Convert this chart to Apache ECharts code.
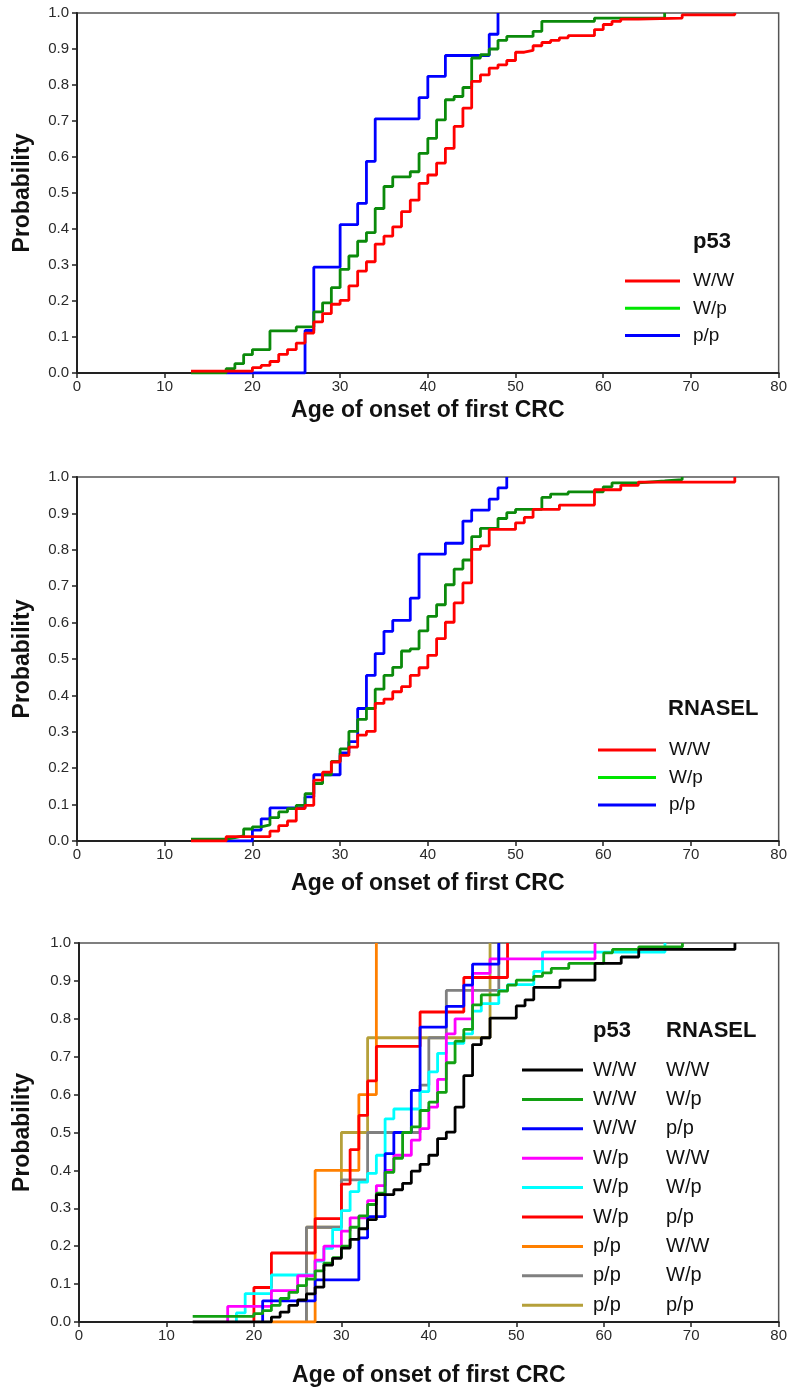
<!DOCTYPE html>
<html>
<head>
<meta charset="utf-8">
<script src="https://cdn.jsdelivr.net/npm/echarts@6/dist/echarts.min.js"></script>
<style>
  body { margin: 0; background: #fff; }
  .panel { position: absolute; left: 0; width: 790px; }
</style>
</head>
<body>
<div id="c1" class="panel" style="top:0;height:440px"></div>
<div id="c2" class="panel" style="top:440px;height:460px"></div>
<div id="c3" class="panel" style="top:900px;height:492px"></div>
<script>
// cumulative probability of first CRC by age: [age, probability]

// panel 1 - p53 genotype
const p53_WW = [[13,0.005],[20,0.015],[21,0.021],[22,0.032],[23,0.052],[24,0.065],[25,0.083],[26,0.111],[27,0.142],[28,0.165],[29,0.191],[30,0.202],[31,0.242],[32,0.283],[33,0.309],[34,0.358],[35,0.38],[36,0.406],[37,0.448],[38,0.48],[39,0.527],[40,0.55],[41,0.583],[42,0.624],[43,0.685],[44,0.736],[45,0.81],[46,0.828],[47,0.847],[48,0.856],[49,0.868],[50,0.891],[51,0.896],[52,0.909],[53,0.918],[54,0.924],[55,0.931],[56,0.937],[59,0.954],[60,0.968],[61,0.977],[62,0.983],[64,0.986],[69,0.995],[75,1]]
const p53_Wp = [[13,0],[17,0.012],[18,0.026],[19,0.051],[20,0.065],[22,0.117],[25,0.128],[27,0.17],[28,0.195],[29,0.237],[30,0.288],[31,0.325],[32,0.366],[33,0.39],[34,0.457],[35,0.518],[36,0.545],[38,0.559],[39,0.61],[40,0.652],[41,0.703],[42,0.759],[43,0.768],[44,0.793],[45,0.875],[46,0.884],[47,0.9],[48,0.924],[49,0.935],[52,0.949],[53,0.977],[59,0.986],[67,1]]
const p53_pp = [[17,0],[26,0.118],[27,0.294],[30,0.412],[32,0.471],[33,0.588],[34,0.706],[39,0.765],[40,0.824],[42,0.882],[47,0.941],[48,1]]

// panel 2 - RNASEL genotype
const rn_WW = [[13,0],[17,0.012],[22,0.027],[23,0.042],[24,0.055],[25,0.089],[26,0.098],[27,0.167],[28,0.189],[29,0.217],[30,0.235],[31,0.258],[32,0.291],[33,0.301],[34,0.378],[35,0.39],[36,0.41],[37,0.424],[38,0.455],[39,0.476],[40,0.51],[41,0.556],[42,0.601],[43,0.654],[44,0.709],[45,0.801],[46,0.811],[47,0.856],[50,0.874],[51,0.889],[52,0.911],[55,0.923],[59,0.965],[62,0.977],[64,0.986],[75,1]]
const rn_Wp = [[13,0.005],[17,0.009],[18,0.014],[19,0.033],[20,0.039],[21,0.044],[22,0.064],[23,0.08],[24,0.089],[25,0.098],[26,0.13],[27,0.158],[28,0.182],[29,0.219],[30,0.253],[31,0.301],[32,0.334],[33,0.364],[34,0.417],[35,0.455],[36,0.477],[37,0.522],[38,0.528],[39,0.577],[40,0.617],[41,0.649],[42,0.704],[43,0.747],[44,0.772],[45,0.836],[46,0.859],[48,0.886],[49,0.902],[50,0.911],[53,0.944],[54,0.953],[56,0.959],[60,0.973],[61,0.984],[64,0.989],[67,0.993],[69,1]]
const rn_pp = [[17,0],[20,0.03],[21,0.061],[22,0.091],[26,0.121],[27,0.182],[30,0.242],[31,0.273],[32,0.364],[33,0.455],[34,0.515],[35,0.576],[36,0.606],[38,0.667],[39,0.788],[42,0.818],[44,0.879],[45,0.909],[47,0.939],[48,0.97],[49,1]]

// panel 3 - combined p53 / RNASEL genotypes
const c_WW_WW = [[13,0],[22,0.013],[23,0.026],[24,0.044],[25,0.058],[26,0.074],[27,0.092],[28,0.15],[29,0.168],[30,0.195],[31,0.218],[32,0.246],[33,0.27],[34,0.336],[36,0.349],[37,0.366],[38,0.398],[39,0.416],[40,0.44],[41,0.484],[42,0.501],[43,0.567],[44,0.65],[45,0.732],[46,0.75],[47,0.802],[50,0.834],[51,0.85],[52,0.883],[55,0.902],[59,0.946],[62,0.963],[64,0.983],[75,1]]
const c_WW_Wp = [[13,0.015],[20,0.022],[21,0.03],[22,0.044],[23,0.062],[24,0.078],[25,0.096],[26,0.113],[27,0.135],[28,0.155],[29,0.17],[30,0.2],[31,0.25],[32,0.28],[33,0.31],[34,0.34],[35,0.395],[36,0.432],[37,0.5],[38,0.515],[39,0.558],[40,0.58],[41,0.606],[42,0.684],[43,0.741],[44,0.772],[45,0.837],[46,0.863],[48,0.873],[49,0.889],[50,0.902],[52,0.912],[53,0.921],[54,0.933],[56,0.946],[60,0.974],[61,0.983],[64,0.99],[69,1]]
const c_WW_pp = [[21,0],[21,0.056],[27,0.111],[32,0.222],[33,0.278],[35,0.444],[36,0.5],[38,0.611],[39,0.778],[42,0.833],[44,0.889],[45,0.944],[48,1]]
const c_Wp_WW = [[17,0],[17,0.041],[22,0.083],[25,0.122],[27,0.163],[28,0.2],[30,0.24],[31,0.275],[33,0.32],[34,0.36],[35,0.4],[36,0.44],[38,0.48],[39,0.51],[40,0.567],[41,0.64],[42,0.76],[43,0.8],[45,0.92],[47,0.958],[59,1]]
const c_Wp_Wp = [[18,0],[18,0.024],[19,0.075],[22,0.124],[27,0.161],[28,0.194],[29,0.244],[30,0.294],[31,0.344],[32,0.369],[33,0.392],[34,0.44],[35,0.536],[36,0.562],[39,0.608],[40,0.66],[41,0.709],[42,0.735],[44,0.76],[45,0.82],[46,0.84],[48,0.875],[49,0.89],[52,0.925],[53,0.976],[67,1]]
const c_Wp_pp = [[20,0],[20,0.091],[22,0.182],[27,0.273],[30,0.364],[31,0.455],[32,0.545],[33,0.636],[34,0.727],[39,0.818],[44,0.909],[49,1]]
const c_pp_WW = [[22,0],[27,0.4],[32,0.6],[34,1]]
const c_pp_Wp = [[26,0],[26,0.25],[30,0.375],[33,0.5],[39,0.625],[40,0.75],[42,0.875],[48,1]]
const c_pp_pp = [[26,0],[26,0.25],[30,0.5],[33,0.75],[47,1]]

const GENOTYPES = ['W/W', 'W/p', 'p/p']
const X_TICKS = { min: 0, max: 80, interval: 10 }
const Y_TICKS = { min: 0, max: 1, interval: 0.1 }

const FONT = '"Liberation Sans", Arial, sans-serif'
const DARK_GREEN = '#0b8a0b'

function axes(xGap, yGap) {
  const line = { show: true, onZero: false, lineStyle: { color: '#222', width: 2 } }
  const tick = { show: true, length: 5, lineStyle: { color: '#222', width: 1.5 } }
  const nameStyle = { fontFamily: FONT, fontSize: 23, fontWeight: 'bold', color: '#111' }
  return {
    xAxis: {
      type: 'value', ...X_TICKS,
      name: 'Age of onset of first CRC', nameLocation: 'middle', nameGap: xGap,
      nameTextStyle: nameStyle,
      axisLine: line, axisTick: tick,
      axisLabel: { fontFamily: FONT, fontSize: 15, color: '#2a2a2a', margin: 6 },
      splitLine: { show: false }
    },
    yAxis: {
      type: 'value', ...Y_TICKS,
      name: 'Probability', nameLocation: 'middle', nameGap: yGap,
      nameTextStyle: nameStyle,
      axisLine: line, axisTick: tick,
      axisLabel: { fontFamily: FONT, fontSize: 15, color: '#2a2a2a', margin: 8, formatter: v => v.toFixed(1) },
      splitLine: { show: false }
    }
  }
}

function stepLine(name, data, color) {
  return {
    type: 'line', name, data, step: 'end',
    symbol: 'none', silent: true,
    lineStyle: { color, width: 2.8 },
    itemStyle: { color }
  }
}

function legend(left, top, width, gap, data, extra) {
  return Object.assign({
    orient: 'vertical', left, top, padding: 0,
    icon: 'rect', itemWidth: width, itemHeight: 3, itemGap: gap,
    itemStyle: { borderWidth: 0 },
    selectedMode: false,
    textStyle: { fontFamily: FONT, fontSize: 19, lineHeight: 20, color: '#111', padding: [0, 0, 0, 8] },
    data
  }, extra || {})
}

function heading(text, left, top) {
  return { text, left, top, padding: 0, textStyle: { fontFamily: FONT, fontSize: 22, fontWeight: 'bold', color: '#111' } }
}

// single-gene panels share the same layout
function singleGeneOption(gene, series, grid, gaps, titlePos, legendPos) {
  const legendData = GENOTYPES.map(g => g === 'W/p'
    ? { name: g, itemStyle: { color: '#00e600' } }
    : { name: g })
  return {
    animation: false,
    grid: Object.assign({ show: true, borderColor: '#555', borderWidth: 1.5 }, grid),
    ...axes(gaps[0], gaps[1]),
    title: [heading(gene, titlePos[0], titlePos[1])],
    legend: legend(legendPos[0], legendPos[1], legendPos[2], legendPos[3], legendData),
    series: [
      stepLine('p/p', series[2], '#0000ff'),
      stepLine('W/p', series[1], DARK_GREEN),
      stepLine('W/W', series[0], '#ff0000')
    ]
  }
}

const chart1 = echarts.init(document.getElementById('c1'))
chart1.setOption(singleGeneOption('p53', [p53_WW, p53_Wp, p53_pp],
  { left: 77, top: 13, width: 703, height: 360 }, [26, 43], [693, 231], [625, 271, 55, 7.3]))

const chart2 = echarts.init(document.getElementById('c2'))
chart2.setOption(singleGeneOption('RNASEL', [rn_WW, rn_Wp, rn_pp],
  { left: 77, top: 37, width: 703, height: 366 }, [31, 43], [668, 258], [598, 300, 58, 7.5]))

// combined panel: series name = "p53 RNASEL"
const combos = [
  ['W/W W/W', c_WW_WW, '#000000'],
  ['W/W W/p', c_WW_Wp, '#12a012'],
  ['W/W p/p', c_WW_pp, '#0000ff'],
  ['W/p W/W', c_Wp_WW, '#ff00ff'],
  ['W/p W/p', c_Wp_Wp, '#00ffff'],
  ['W/p p/p', c_Wp_pp, '#ff0000'],
  ['p/p W/W', c_pp_WW, '#ff8000'],
  ['p/p W/p', c_pp_Wp, '#808080'],
  ['p/p p/p', c_pp_pp, '#b5a03a']
]

const chart3 = echarts.init(document.getElementById('c3'))
chart3.setOption({
  animation: false,
  grid: { show: true, borderColor: '#555', borderWidth: 1.5, left: 79, top: 43, width: 701, height: 382 },
  ...axes(42, 45),
  title: [heading('p53', 593, 120), heading('RNASEL', 666, 120)],
  legend: legend(522, 160, 61, 9.4, combos.map(c => c[0]), {
    formatter: name => {
      const [a, b] = name.split(' ')
      return `{a|${a}}{b|${b}}`
    },
    textStyle: {
      fontFamily: FONT, fontSize: 20, lineHeight: 20, color: '#111', padding: [0, 0, 0, 5],
      rich: {
        a: { fontFamily: FONT, fontSize: 20, width: 73, color: '#111' },
        b: { fontFamily: FONT, fontSize: 20, color: '#111' }
      }
    }
  }),
  series: combos.slice().reverse().map(c => stepLine(c[0], c[1], c[2]))
})
</script>
</body>
</html>
